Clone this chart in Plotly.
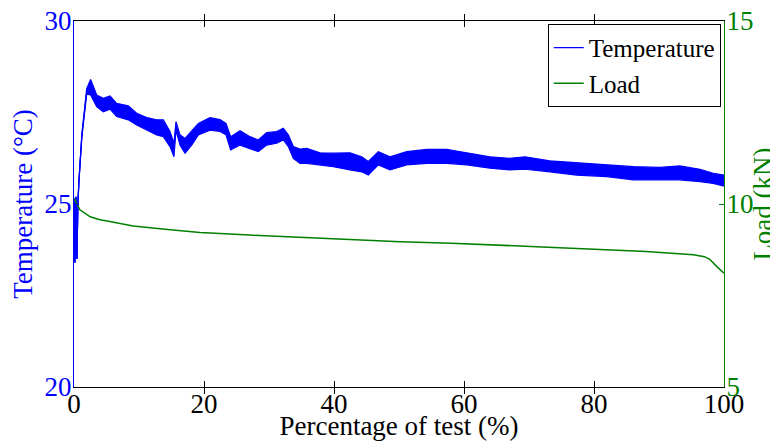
import plotly.graph_objects as go

# ---- data ----
temp_x = [0, 0.15, 0.3, 0.45, 0.6, 0.75, 1.2, 1.95, 2.56, 3.49, 4.5, 5.54, 6.56, 8.35, 9.64,
          11.18, 12.72, 13.74, 14.77, 15.38, 15.69, 16.3, 17.08, 18.1, 19.13, 20.92, 22.46,
          23.38, 24.1, 25.54, 27.08, 28.36, 29.64, 31.18, 32.2, 32.97, 33.74, 34.77, 35.8,
          37.85, 39.9, 42.46, 44.26, 45.28, 46.82, 48.62, 51.18, 54.26, 57.34, 60.41, 64.0,
          67.0, 69.4, 73.2, 77.3, 81.95, 86.05, 90.15, 93.2, 96.3, 98.35, 100]
temp_upper = [25.1, 23.4, 25.2, 23.5, 25.0, 25.6, 26.9, 28.15, 28.40, 27.98, 27.89, 27.95, 27.75,
              27.68, 27.48, 27.36, 27.30, 27.30, 26.98, 26.66, 27.25, 26.89, 26.79, 26.98, 27.20,
              27.36, 27.31, 27.20, 26.84, 27.00, 26.84, 26.75, 26.95, 26.98, 27.07, 26.89, 26.57,
              26.50, 26.52, 26.40, 26.39, 26.40, 26.29, 26.16, 26.43, 26.29, 26.43, 26.49, 26.49,
              26.40, 26.29, 26.25, 26.29, 26.18, 26.13, 26.07, 26.02, 26.00, 26.04, 25.95, 25.84,
              25.79]
temp_lower = [25.1, 23.4, 25.2, 23.5, 25.0, 25.6, 26.8, 28.0, 27.98, 27.66, 27.52, 27.59, 27.39,
              27.30, 27.16, 27.02, 26.89, 26.84, 26.57, 26.29, 27.02, 26.61, 26.39, 26.61, 26.89,
              27.02, 26.98, 26.89, 26.48, 26.61, 26.52, 26.43, 26.61, 26.66, 26.75, 26.57, 26.25,
              26.11, 26.11, 26.07, 26.02, 25.93, 25.88, 25.79, 26.07, 25.93, 26.07, 26.11, 26.11,
              26.07, 25.98, 25.93, 25.95, 25.88, 25.79, 25.75, 25.66, 25.66, 25.66, 25.61, 25.56,
              25.49]

load_x = [0, 0.9, 2.5, 4.0, 5.5, 9.1, 14, 19.4, 27, 34.8, 42, 50.2, 58, 65.5, 73, 80.9, 88, 93,
          95.3, 97.0, 97.8, 98.9, 99.5, 100]
load_kn = [10.16, 9.84, 9.65, 9.57, 9.52, 9.40, 9.31, 9.22, 9.15, 9.09, 9.03, 8.97, 8.93, 8.88,
           8.82, 8.76, 8.70, 8.65, 8.61, 8.56, 8.49, 8.29, 8.18, 8.11]

x_ticks = [0, 20, 40, 60, 80, 100]
temp_ticks = [20, 25, 30]
load_ticks = [5, 10, 15]

BLUE = "#0000FF"
GREEN = "#008000"
FONT = "Liberation Serif, Times New Roman, serif"

temp_mid = [(a + b) / 2 for a, b in zip(temp_upper, temp_lower)]

fig = go.Figure()
fig.add_trace(go.Scatter(x=temp_x, y=temp_upper, mode="lines", line=dict(color=BLUE, width=1.2),
                         showlegend=False, hoverinfo="skip"))
fig.add_trace(go.Scatter(x=temp_x, y=temp_lower, mode="lines", line=dict(color=BLUE, width=1.2),
                         fill="tonexty", fillcolor=BLUE, showlegend=False, hoverinfo="skip"))
fig.add_trace(go.Scatter(x=temp_x, y=temp_mid, mode="lines", line=dict(color=BLUE, width=1.2),
                         name="Temperature"))
fig.add_trace(go.Scatter(x=load_x, y=load_kn, mode="lines", line=dict(color=GREEN, width=1.5),
                         name="Load", yaxis="y2"))

# page body has an 8px default margin; figure is sized so the plot area lands where the reference has it
fig.update_layout(
    width=770, height=433,
    margin=dict(l=66, r=54, t=13, b=54, autoexpand=False),
    paper_bgcolor="white", plot_bgcolor="white",
    font=dict(family=FONT, size=27, color="black"),
    xaxis=dict(range=[0, 100], tickvals=x_ticks, ticks="inside", ticklen=6, tickcolor="black",
               showline=True, linecolor="black", linewidth=1.2, mirror="allticks", showgrid=False,
               zeroline=False, tickfont=dict(size=27, color="black"), ticklabelstandoff=-8,
               ticklabeloverflow="allow",
               title=dict(text="Percentage of test (%)", font=dict(size=27, color="black"), standoff=22)),
    yaxis=dict(range=[20, 30], tickvals=temp_ticks, ticks="inside", ticklen=5, tickcolor=BLUE,
               showline=True, linecolor=BLUE, linewidth=1.2, showgrid=False, zeroline=False,
               tickfont=dict(size=27, color=BLUE), ticklabelstandoff=-4,
               ticklabeloverflow="allow",
               title=dict(text="Temperature (°C)", font=dict(size=27, color=BLUE), standoff=5)),
    yaxis2=dict(range=[5, 15], tickvals=load_ticks, ticks="inside", ticklen=5, tickcolor=GREEN,
                showline=True, linecolor=GREEN, linewidth=1.2, showgrid=False, zeroline=False,
                overlaying="y", side="right", anchor="x", tickfont=dict(size=27, color=GREEN),
                ticklabelstandoff=-4, ticklabeloverflow="allow",
                title=dict(text="Load (kN)", font=dict(size=27, color=GREEN), standoff=18)),
    legend=dict(x=0.995, y=0.992, xanchor="right", yanchor="top", bgcolor="white",
                bordercolor="black", borderwidth=1, font=dict(size=25, color="black"),
                itemwidth=30, tracegroupgap=0, traceorder="normal"),
    showlegend=True,
)

fig.write_html("out.html")
